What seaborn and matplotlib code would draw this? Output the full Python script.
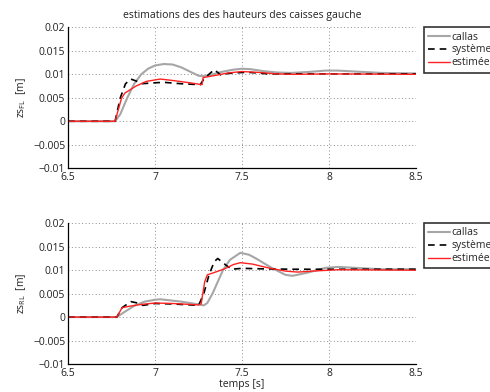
import matplotlib
matplotlib.use("Agg")
import matplotlib.pyplot as plt
import seaborn as sns
import pandas as pd

# --- front-left body height (top panel) ---
t_callas_fl = [6.5, 6.77, 6.80, 6.84, 6.88, 6.92, 6.96, 7.00, 7.05, 7.10, 7.15, 7.20, 7.25, 7.28,
               7.32, 7.38, 7.45, 7.50, 7.55, 7.62, 7.70, 7.78, 7.88, 7.98, 8.05, 8.15, 8.30, 8.50]
z_callas_fl = [0, 0, 0.0015, 0.0050, 0.0080, 0.0100, 0.0112, 0.0119, 0.0122, 0.0121, 0.0115, 0.0106,
               0.0097, 0.0096, 0.0099, 0.0105, 0.0110, 0.0112, 0.0111, 0.0107, 0.0104, 0.0103,
               0.0105, 0.0108, 0.0108, 0.0106, 0.0103, 0.0102]
t_sys_fl = [6.5, 6.77, 6.80, 6.83, 6.86, 6.89, 6.92, 7.00, 7.05, 7.15, 7.26, 7.28, 7.30, 7.34,
            7.38, 7.42, 7.50, 7.55, 7.65, 8.0, 8.5]
z_sys_fl = [0, 0, 0.0050, 0.0080, 0.0090, 0.0086, 0.0080, 0.0082, 0.0083, 0.0080, 0.0078, 0.0090,
            0.0097, 0.0110, 0.0098, 0.0102, 0.0104, 0.0104, 0.0101, 0.0101, 0.0101]
t_est_fl = [6.5, 6.77, 6.807, 6.826, 6.89, 6.95, 7.03, 7.10, 7.20, 7.27, 7.276, 7.35, 7.42, 7.50,
            7.60, 7.70, 7.80, 8.00, 8.50]
z_est_fl = [0, 0, 0.0049, 0.0060, 0.0075, 0.0085, 0.0090, 0.0087, 0.0082, 0.0078, 0.0093, 0.0098,
            0.0103, 0.0106, 0.0104, 0.0101, 0.0100, 0.0101, 0.0100]

# --- rear-left body height (bottom panel) ---
t_callas_rl = [6.5, 6.78, 6.82, 6.88, 6.94, 7.00, 7.03, 7.15, 7.25, 7.28, 7.30, 7.33, 7.36, 7.39,
               7.43, 7.49, 7.54, 7.58, 7.67, 7.75, 7.79, 7.88, 7.98, 8.05, 8.15, 8.30, 8.50]
z_callas_rl = [0, 0, 0.0010, 0.0024, 0.0033, 0.0037, 0.0038, 0.0033, 0.0027, 0.0025, 0.0030, 0.0050,
               0.0075, 0.0100, 0.0122, 0.0137, 0.0133, 0.0125, 0.0105, 0.0090, 0.0088, 0.0095,
               0.0105, 0.0107, 0.0105, 0.0102, 0.0102]
t_sys_rl = [6.5, 6.78, 6.81, 6.86, 6.90, 6.93, 7.00, 7.10, 7.25, 7.28, 7.31, 7.34, 7.36, 7.41,
            7.44, 7.50, 7.60, 7.80, 8.50]
z_sys_rl = [0, 0, 0.0020, 0.0033, 0.0030, 0.0025, 0.0029, 0.0028, 0.0025, 0.0050, 0.0090, 0.0118,
            0.0125, 0.0110, 0.0102, 0.0104, 0.0103, 0.0102, 0.0102]
t_est_rl = [6.5, 6.78, 6.81, 6.85, 6.92, 7.00, 7.10, 7.25, 7.265, 7.285, 7.30, 7.34, 7.40, 7.45,
            7.49, 7.56, 7.65, 7.75, 7.82, 7.95, 8.05, 8.50]
z_est_rl = [0, 0, 0.0020, 0.0023, 0.0027, 0.0030, 0.0029, 0.0026, 0.0028, 0.0075, 0.0090, 0.0095,
            0.0103, 0.0112, 0.0116, 0.0113, 0.0105, 0.0098, 0.0096, 0.0099, 0.0101, 0.0100]

series_names = ["callas", "système", "estimée"]
x_ticks = [6.5, 7, 7.5, 8, 8.5]
y_ticks = [-0.01, -0.005, 0, 0.005, 0.01, 0.015, 0.02]
y_tick_labels = ["\u22120.01", "\u22120.005", "0", "0.005", "0.01", "0.015", "0.02"]

sns.set_style("white")
plt.rcParams["font.family"] = ["Open Sans", "DejaVu Sans"]
plt.rcParams["mathtext.fontset"] = "custom"
plt.rcParams["mathtext.rm"] = "Open Sans"

styles = [dict(color="#a6a6a6", lw=1.5, ls="-"),
          dict(color="black", lw=1.2, ls=(0, (4, 3))),
          dict(color="#ff2020", lw=1.0, ls="-")]

fig = plt.figure(figsize=(4.9, 3.92), dpi=100)
ax1 = fig.add_axes([0.139, 0.571, 0.710, 0.359])
ax2 = fig.add_axes([0.139, 0.0714, 0.710, 0.359])

panels = [
    (ax1, [(t_callas_fl, z_callas_fl), (t_sys_fl, z_sys_fl), (t_est_fl, z_est_fl)], "FL"),
    (ax2, [(t_callas_rl, z_callas_rl), (t_sys_rl, z_sys_rl), (t_est_rl, z_est_rl)], "RL"),
]

for ax, data, sub in panels:
    for (t, z), name, st in zip(data, series_names, styles):
        df = pd.DataFrame({"t": t, "z": z})
        sns.lineplot(data=df, x="t", y="z", ax=ax, label=name, color=st["color"],
                     linewidth=st["lw"], linestyle=st["ls"])
    ax.set_xlim(6.5, 8.5)
    ax.set_ylim(-0.01, 0.02)
    ax.set_xticks(x_ticks)
    ax.set_xticklabels([f"{v:g}" for v in x_ticks])
    ax.set_yticks(y_ticks)
    ax.set_yticklabels(y_tick_labels)
    ax.grid(True, color="#8c8c8c", linestyle=(0, (1, 2.5)), linewidth=0.7)
    ax.tick_params(direction="in", length=3, width=0.8, labelsize=7.5, color="black",
                   labelcolor="#222222", pad=2)
    ax.tick_params(axis="x", pad=3)
    for s in ["top", "right"]:
        ax.spines[s].set_visible(False)
    for s in ["left", "bottom"]:
        ax.spines[s].set_color("black")
        ax.spines[s].set_linewidth(0.9)
    ax.set_xlabel("")
    ax.set_ylabel(r"zs$_{\mathregular{" + sub + r"}}$  [m]", fontsize=7.5, color="#222222",
                  labelpad=4)
    leg = ax.legend(loc="upper left", bbox_to_anchor=(1.023, 1.0), frameon=True, fancybox=False,
                    edgecolor="black", fontsize=7.5, handlelength=2.1, handletextpad=0.15,
                    borderpad=0.4, labelspacing=0.18, borderaxespad=0)
    leg.get_frame().set_linewidth(1.2)

ax1.set_title("estimations des des hauteurs des caisses gauche", fontsize=7.5, color="#222222",
              pad=7)
ax2.set_xlabel("temps [s]", fontsize=7.5, color="#222222", labelpad=0)

fig.savefig("out.png", dpi=100)
